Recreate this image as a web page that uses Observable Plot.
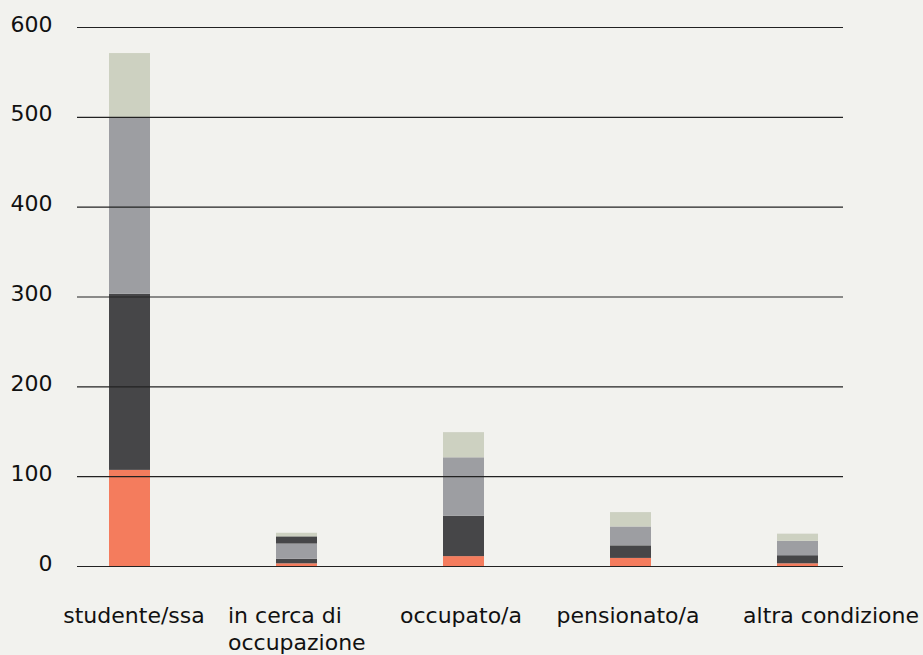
<!DOCTYPE html>
<html><head><meta charset="utf-8">
<script src="https://cdn.jsdelivr.net/npm/d3@7"></script>
<script src="https://cdn.jsdelivr.net/npm/@observablehq/plot@0.6"></script>
<style>
html,body{margin:0;padding:0;background:#f2f2ee;}
#chart svg{display:block;}
</style></head><body><div id="chart"></div>
<script>
const categories = ["studente/ssa", "in cerca di occupazione", "occupato/a", "pensionato/a", "altra condizione"];
const categoryLabels = ["studente/ssa", "in cerca di\noccupazione", "occupato/a", "pensionato/a", "altra condizione"];
const seriesNames = ["s1", "s2", "s3", "s4", "s5"];
const seriesColors = ["#f47c5d", "#464648", "#9d9ea2", "#464648", "#cdd1c1"];
const values1 = [107, 3, 11, 9, 3];
const values2 = [196, 5, 45, 14, 9];
const values3 = [197, 17, 65, 21, 16];
const values4 = [0, 8, 0, 0, 0];
const values5 = [71, 4, 28, 16, 8];
const yTicks = [0, 100, 200, 300, 400, 500, 600];

const seriesValues = [values1, values2, values3, values4, values5];
const data = [];
seriesNames.forEach((s, si) => categories.forEach((c, ci) => data.push({cat: c, series: s, value: seriesValues[si][ci]})));

const labelOf = (d) => categoryLabels[categories.indexOf(d)];
const axisCommon = {tickSize: 0, tickPadding: 38, fontSize: 22, label: null, lineHeight: 1.2, tickFormat: labelOf};

const chart = Plot.plot({
  width: 923,
  height: 655,
  marginLeft: 77,
  marginRight: 80,
  marginTop: 27,
  marginBottom: 89,
  style: {fontFamily: "'DejaVu Sans', sans-serif", fontSize: "22px", background: "#f2f2ee", color: "#111", overflow: "visible"},
  x: {type: "band", domain: categories, range: [44.75, 882.25], paddingInner: 0.755, paddingOuter: 0.3775, align: 0.5},
  y: {domain: [0, 600]},
  color: {domain: seriesNames, range: seriesColors},
  marks: [
    Plot.barY(data, {x: "cat", y: "value", fill: "series", order: seriesNames}),
    Plot.ruleY(yTicks, {stroke: "#222", strokeWidth: 1.2}),
    Plot.axisY({ticks: yTicks, tickSize: 0, tickPadding: 25, fontSize: 22, dy: -3, label: null}),
    Plot.axisX([categories[0]], {...axisCommon, dx: 4}),
    Plot.axisX([categories[1]], {...axisCommon, textAnchor: "start", dx: -69}),
    Plot.axisX([categories[2], categories[3]], {...axisCommon, dx: -3}),
    Plot.axisX([categories[4]], {...axisCommon, dx: 33})
  ]
});
document.getElementById("chart").appendChild(chart);
</script></body></html>
